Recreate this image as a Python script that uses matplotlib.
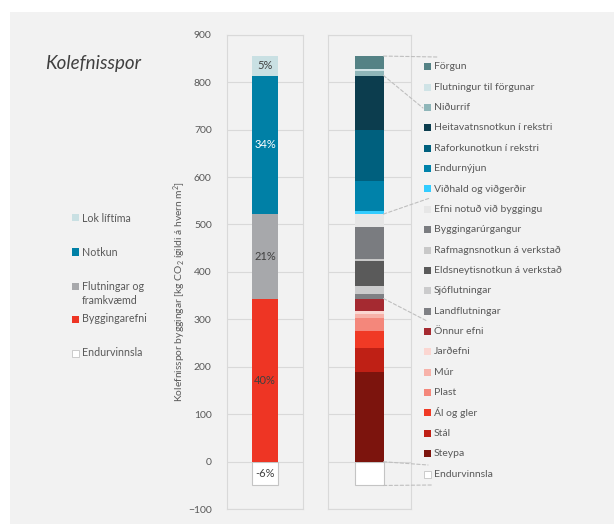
import matplotlib
matplotlib.use("Agg")
import matplotlib.pyplot as plt
from matplotlib.patches import Rectangle, ConnectionPatch

plt.rcParams["font.family"] = ["Lato", "DejaVu Sans"]
plt.rcParams["mathtext.fontset"] = "custom"
plt.rcParams["mathtext.rm"] = "Lato"
plt.rcParams["mathtext.it"] = "Lato:italic"

# Components per life-cycle stage, listed bottom-up as stacked
efni_names = ["Steypa", "Stál", "Ál og gler", "Plast", "Múr", "Jarðefni", "Önnur efni"]
efni_vals = [189, 51, 35, 27, 9, 7, 26]
efni_cols = ["#7c140d", "#bf2015", "#f03a25", "#f4877b", "#f7b2a9", "#fbd6d1", "#a52a31"]

flutn_names = ["Landflutningar", "Sjóflutningar", "Eldsneytisnotkun á verkstað",
               "Rafmagnsnotkun á verkstað", "Byggingarúrgangur", "Efni notuð við byggingu"]
flutn_vals = [9, 18, 53, 3, 68, 27]
flutn_cols = ["#7f8084", "#cbcbcc", "#5a5a5a", "#c8c8c8", "#7a7c80", "#e6e6e6"]

notkun_names = ["Viðhald og viðgerðir", "Endurnýjun", "Raforkunotkun í rekstri",
                "Heitavatnsnotkun í rekstri"]
notkun_vals = [6, 64, 107, 115]
notkun_cols = ["#33ccff", "#0082aa", "#00607e", "#0c3d4e"]

lok_names = ["Niðurrif", "Flutningur til förgunar", "Förgun"]
lok_vals = [10, 3, 28]
lok_cols = ["#8fb6b9", "#cfe3e6", "#548285"]

endurvinnsla = -50

group_names = ["Byggingarefni", "Flutningar og\nframkvæmd", "Notkun", "Lok líftíma"]
group_vals = [sum(efni_vals), sum(flutn_vals), sum(notkun_vals), sum(lok_vals)]
group_cols = ["#ee3524", "#a7a8ab", "#0080a6", "#c9e0e3"]
label_cols = ["#404040", "#404040", "white", "#404040"]

total = sum(group_vals)
txt = "#595959"
grid_c = "#d9d9d9"

fig = plt.figure(figsize=(6.14, 5.24), dpi=100, facecolor="white")
fig.add_artist(Rectangle((10 / 614, 0), 1, 512 / 524, transform=fig.transFigure,
                         facecolor="#f2f2f2", edgecolor="none", zorder=-10))

H = 524
ax_b = 1 - 509.2 / H
ax_h = 474.5 / H
ax_l = fig.add_axes([227 / 614, ax_b, 76 / 614, ax_h])
ax_r = fig.add_axes([328 / 614, ax_b, 83 / 614, ax_h])

bw = 0.675
for ax in (ax_l, ax_r):
    ax.set_facecolor("none")
    ax.set_xlim(-1, 1)
    ax.set_ylim(-100, 900)
    ax.set_yticks(range(-100, 901, 100))
    ax.set_xticks([])
    ax.grid(axis="y", color=grid_c, linewidth=0.8)
    ax.set_axisbelow(True)
    ax.tick_params(length=0)
    for s in ax.spines.values():
        s.set_color(grid_c)
        s.set_linewidth(0.8)
ax_r.set_yticklabels([])
ax_l.tick_params(axis="y", labelsize=7.5, labelcolor=txt, pad=11)

# left bar: stage totals with share labels
ax_l.bar(0, endurvinnsla, width=bw, color="white", edgecolor="#c4c4c4", linewidth=0.8)
ax_l.text(0, endurvinnsla / 2, f"{endurvinnsla / total:.0%}", ha="center", va="center",
          fontsize=8, color="#404040")
bottom = 0
for v, c, lc in zip(group_vals, group_cols, label_cols):
    ax_l.bar(0, v, bottom=bottom, width=bw, color=c)
    ax_l.text(0, bottom + v / 2, f"{v / total:.0%}", ha="center", va="center",
              fontsize=8, color=lc)
    bottom += v

# right bar: individual components
ax_r.bar(0, endurvinnsla, width=bw, color="white", edgecolor="#c4c4c4", linewidth=0.8)
bottom = 0
bounds = [0]
for vals, cols in ((efni_vals, efni_cols), (flutn_vals, flutn_cols),
                   (notkun_vals, notkun_cols), (lok_vals, lok_cols)):
    for v, c in zip(vals, cols):
        ax_r.bar(0, v, bottom=bottom, width=bw, color=c)
        bottom += v
    bounds.append(bottom)

fig.text(180 / 614, 1 - 292 / H,
         "Kolefnisspor byggingar [kg CO$_2$ ígildi á hvern m$^2$]",
         rotation=90, ha="center", va="center", fontsize=7.4, color=txt)
fig.text(45 / 614, 1 - 69 / H, "Kolefnisspor", fontsize=13.5, style="italic",
         color="#404040", va="baseline")

# left legend
left_items = list(zip(group_names[::-1], group_cols[::-1])) + [("Endurvinnsla", "white")]
left_rows = [218, 252, 286, 319, 353]
for (name, c), y in zip(left_items, left_rows):
    y0 = 1 - y / H
    fig.add_artist(Rectangle((72 / 614, y0 - 3.5 / H), 7 / 614, 7 / H,
                             transform=fig.transFigure, facecolor=c,
                             edgecolor="#c4c4c4" if c == "white" else "none", linewidth=0.6))
    lines = name.split("\n")
    for k, ln in enumerate(lines):
        fig.text(82 / 614, y0 - k * 14.5 / H, ln, fontsize=7.7, color=txt, va="center")

# right legend, top to bottom
right_names = (lok_names[::-1] + notkun_names[::-1] + flutn_names[::-1]
               + efni_names[::-1] + ["Endurvinnsla"])
right_cols = (lok_cols[::-1] + notkun_cols[::-1] + flutn_cols[::-1]
              + efni_cols[::-1] + ["white"])
for i, (name, c) in enumerate(zip(right_names, right_cols)):
    y0 = 1 - (66.7 + 20.37 * i) / H
    fig.add_artist(Rectangle((424 / 614, y0 - 3.5 / H), 7 / 614, 7 / H,
                             transform=fig.transFigure, facecolor=c,
                             edgecolor="#c4c4c4" if c == "white" else "none", linewidth=0.6))
    fig.text(434 / 614, y0, name, fontsize=7.5, color=txt, va="center")

# dashed leaders from stage boundaries to the legend
leader_vals = [bounds[4], bounds[3], bounds[2], bounds[1], 0, endurvinnsla]
leader_ends = [(437, 57), (423, 108), (430, 198), (427, 321), (428, 465), (432, 485)]
for v, (px, py) in zip(leader_vals, leader_ends):
    con = ConnectionPatch(xyA=(bw / 2, v), coordsA=ax_r.transData,
                          xyB=(px / 614, 1 - py / H), coordsB=fig.transFigure,
                          color="#bfbfbf", linestyle=(0, (3, 2)), linewidth=0.8)
    fig.add_artist(con)

fig.savefig("out.png", dpi=100, facecolor="white")
